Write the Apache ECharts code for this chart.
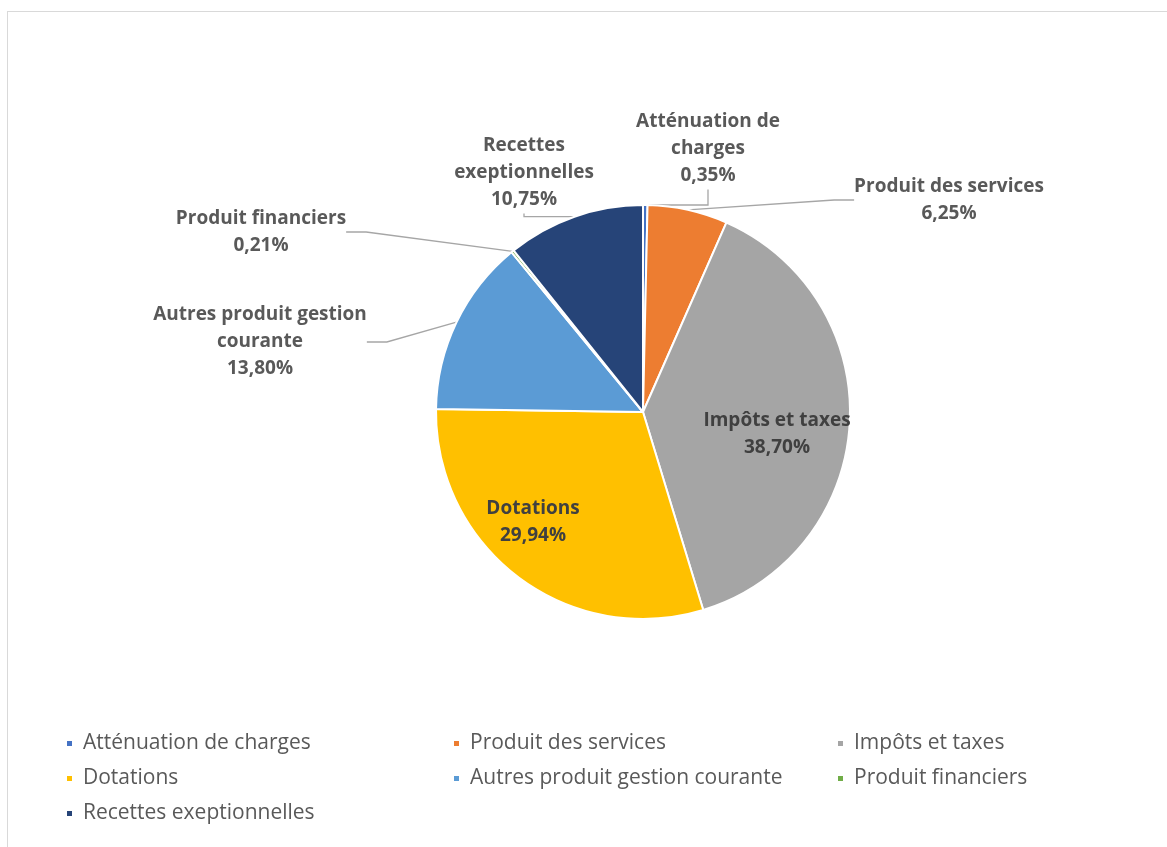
<!DOCTYPE html>
<html>
<head>
<meta charset="utf-8">
<script src="https://cdn.jsdelivr.net/npm/echarts@6/dist/echarts.min.js"></script>
<style>
  html, body { margin: 0; padding: 0; background: #fff; }
  #frame {
    position: absolute; left: 7px; top: 11px; width: 1200px; height: 900px;
    border: 1px solid #d9d9d9; box-sizing: border-box;
  }
  #main { position: absolute; left: 0; top: 0; width: 1167px; height: 847px; }
</style>
</head>
<body>
<div id="frame"></div>
<div id="main"></div>
<script>
// données du graphique
const categories = [
  'Atténuation de charges',
  'Produit des services',
  'Impôts et taxes',
  'Dotations',
  'Autres produit gestion courante',
  'Produit financiers',
  'Recettes exeptionnelles'
];
const values = [0.35, 6.25, 38.70, 29.94, 13.80, 0.21, 10.75];
const labelNames = [
  'Atténuation de\ncharges',
  'Produit des services',
  'Impôts et taxes',
  'Dotations',
  'Autres produit gestion\ncourante',
  'Produit financiers',
  'Recettes\nexeptionnelles'
];
const colors = ['#4472C4', '#ED7D31', '#A5A5A5', '#FFC000', '#5B9BD5', '#70AD47', '#264478'];

// position des étiquettes (centre du bloc de texte)
const labelPos = [
  { x: 708, y: 149 },
  { x: 949, y: 200 },
  { x: 777, y: 434 },
  { x: 533, y: 522 },
  { x: 260, y: 342 },
  { x: 261, y: 232 },
  { x: 524, y: 173 }
];
const insideIdx = [2, 3];

const chart = echarts.init(document.getElementById('main'));

const fmt = (v) => v.toFixed(2).replace('.', ',') + '%';

const data = categories.map((name, i) => ({
  name: name,
  value: values[i],
  itemStyle: { color: colors[i] },
  label: {
    formatter: labelNames[i] + '\n' + fmt(values[i]),
    color: insideIdx.includes(i) ? '#404040' : '#595959'
  },
  labelLine: { show: !insideIdx.includes(i) }
}));

const legendText = { color: '#595959', fontSize: 21, fontFamily: 'Open Sans', padding: [0, 0, 0, 5] };
const legendBase = {
  orient: 'vertical',
  icon: 'rect',
  itemWidth: 7,
  itemHeight: 7,
  itemGap: 14,
  top: 728,
  selectedMode: false,
  textStyle: legendText
};

chart.setOption({
  animation: false,
  legend: [
    Object.assign({}, legendBase, { left: 60, data: [categories[0], categories[3], categories[6]] }),
    Object.assign({}, legendBase, { left: 447, data: [categories[1], categories[4]] }),
    Object.assign({}, legendBase, { left: 831, data: [categories[2], categories[5]] })
  ],
  series: [
    {
      type: 'pie',
      center: [643, 412],
      radius: 207,
      startAngle: 90,
      clockwise: true,
      data: data,
      itemStyle: { borderColor: '#fff', borderWidth: 2 },
      label: {
        show: true,
        position: 'outside',
        fontFamily: 'Open Sans',
        fontWeight: 'bold',
        fontSize: 19,
        lineHeight: 27,
        align: 'center'
      },
      labelLine: {
        show: true,
        length: 12,
        length2: 20,
        lineStyle: { color: '#A6A6A6', width: 1.3 }
      },
      labelLayout: function (params) {
        const p = labelPos[params.dataIndex];
        return { x: p.x, y: p.y, align: 'center', verticalAlign: 'middle' };
      },
      emphasis: { disabled: true }
    }
  ]
});
</script>
</body>
</html>
